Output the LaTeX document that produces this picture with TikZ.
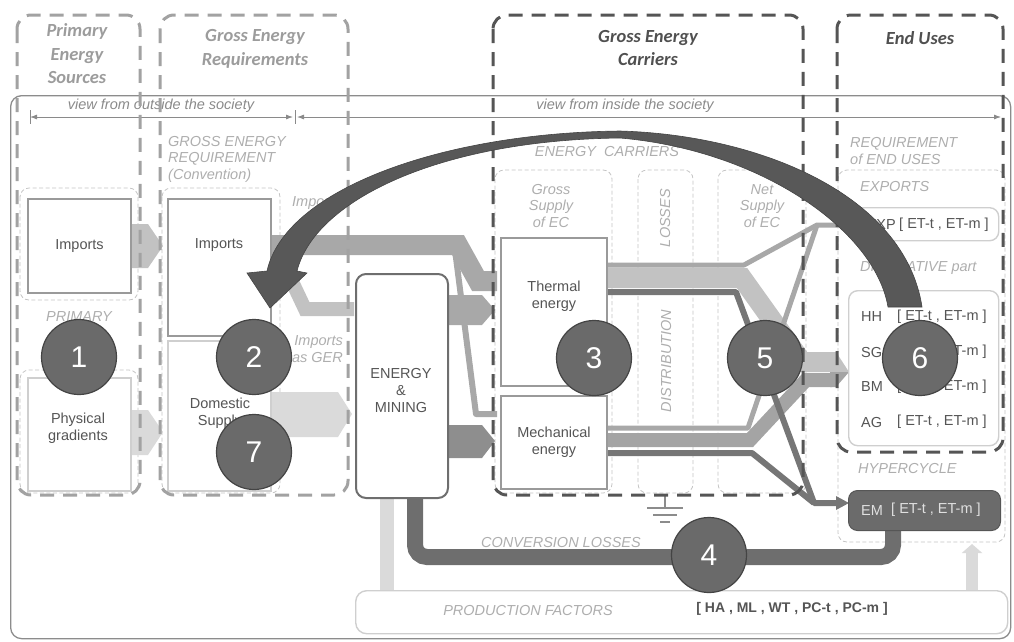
\documentclass[tikz,border=0pt]{standalone}
\usepackage{fontspec}
\setmainfont{Liberation Sans}
\newfontfamily\headfamily{Carlito}
\usetikzlibrary{arrows.meta}

\definecolor{headlite}{HTML}{9C9C9C}
\definecolor{headdark}{HTML}{505050}
\definecolor{colgrey}{HTML}{A2A2A2}
\definecolor{coldark}{HTML}{555555}
\definecolor{zonegrey}{HTML}{C4C4C4}
\definecolor{framegrey}{HTML}{8C8C8C}
\definecolor{boxline}{HTML}{9A9A9A}
\definecolor{softline}{HTML}{CFCFCF}
\definecolor{minebox}{HTML}{6E6E6E}
\definecolor{txtgrey}{HTML}{555555}
\definecolor{labgrey}{HTML}{AEAEAE}
\definecolor{viewgrey}{HTML}{8A8A8A}
\definecolor{numfill}{HTML}{6A6A6A}
\definecolor{numline}{HTML}{444444}
\definecolor{arcfill}{HTML}{585858}
\definecolor{flowmid}{HTML}{A8A8A8}
\definecolor{flowlite}{HTML}{C2C2C2}
\definecolor{flowpale}{HTML}{DADADA}
\definecolor{flowdark}{HTML}{767676}
\definecolor{flowmech}{HTML}{8E8E8E}
\definecolor{lossband}{HTML}{6E6E6E}
\definecolor{emfill}{HTML}{6B6B6B}

\newcommand\bodysize{\fontsize{14.5}{17}\selectfont}
\newcommand\labsize{\itshape\fontsize{14.5}{16.5}\selectfont}
\newcommand\headstyle{\headfamily\bfseries\itshape\fontsize{18.5}{23.5}\selectfont}

\begin{document}
\begin{tikzpicture}[x=1pt,y=-1pt,
  column/.style={line width=3pt, dash pattern=on 14pt off 9pt, rounded corners=14pt},
  zone/.style={draw=zonegrey, line width=0.8pt, dash pattern=on 4pt off 2.5pt, rounded corners=9pt},
  pbox/.style={draw=boxline, line width=2pt, fill=white, inner sep=0pt, anchor=north west,
    font=\bodysize, text=txtgrey, align=center},
  sbox/.style={pbox, draw=softline},
  rbox/.style={sbox, line width=1.4pt, rounded corners=9pt},
  lab/.style={font=\labsize, text=labgrey, inner sep=0pt},
  txt/.style={font=\bodysize, text=txtgrey, inner sep=0pt},
  head/.style={font=\headstyle, align=center, inner sep=0pt},
  num/.style={circle, fill=numfill, draw=numline, line width=1.2pt, minimum size=75pt,
    inner sep=0pt, text=white, font=\fontsize{30}{30}\selectfont},
  scalearrow/.style={draw=viewgrey, line width=0.8pt,
    {Latex[length=7pt,width=5pt]}-{Latex[length=7pt,width=5pt]}},
  band/.style={line join=miter, line cap=butt},
  thin/.style={line join=round, line cap=butt},
]
\useasboundingbox (0,0) rectangle (1014,641);

% ---------- society frame and viewpoint scale ----------
\node[draw=framegrey, line width=1.3pt, rounded corners=11pt, minimum width=1000pt,
  minimum height=543pt, anchor=north west, inner sep=0pt] (society) at (10,95) {};
\coordinate (outL) at (30,117);
\coordinate (outR) at (293,117);
\coordinate (inL) at (297,117);
\coordinate (inR) at (1001,117);
\draw[scalearrow] (outL) -- (outR);
\draw[scalearrow] (inL) -- (inR);
\draw[viewgrey, line width=0.8pt] (30,110) -- (30,124) (295,110) -- (295,124);
\node[lab, text=viewgrey] (vout) at (161,106) {view from outside the society};
\node[lab, text=viewgrey] (vin) at (625,106) {view from inside the society};

% ---------- column titles ----------
\node[head, text=headlite] (hpes) at (77,54) {Primary\\Energy\\Sources};
\node[head, text=headlite] (hger) at (255,49) {Gross Energy\\Requirements};
\node[head, text=headdark] (hgec) at (648,48) {Gross Energy\\Carriers};
\node[head, text=headdark] (heu) at (920,38) {End Uses};

% ---------- light dashed zones ----------
\draw[zone] (20,188) rectangle (138,300);
\draw[zone] (20,370) rectangle (138,493);
\draw[zone] (162,188) rectangle (280,493);
\draw[zone] (495,170) rectangle (612,493);
\draw[zone] (638,170) rectangle (693,493);
\draw[zone] (718,170) rectangle (806,493);
\draw[zone] (838,170) rectangle (1005,542);

% ---------- italic captions ----------
\node[lab] (lprim) at (79,317) {PRIMARY};
\node[lab, align=left, anchor=west] (lger) at (168,159) {GROSS ENERGY\\REQUIREMENT\\(Convention)};
\node[lab, anchor=west] (limpec) at (292,203) {Imports};
\node[lab, align=right, anchor=east] (limpger) at (343,349) {Imports\\as GER};
\node[lab] (lec) at (607,152) {ENERGY\ \ CARRIERS};
\node[lab, align=center] (lgross) at (551,206) {Gross\\Supply\\of EC};
\node[lab, rotate=90] (lloss) at (665,218) {LOSSES};
\node[lab, rotate=90] (ldist) at (666,361) {DISTRIBUTION};
\node[lab, align=center] (lnet) at (762,206) {Net\\Supply\\of EC};
\node[lab, align=left, anchor=west] (lreq) at (850,151) {REQUIREMENT\\of END USES};
\node[lab, anchor=west] (lexp) at (860,187) {EXPORTS};
\node[lab, anchor=west] (ldiss) at (860,268) {DISSIPATIVE part};
\node[lab, anchor=west] (lhyp) at (858,468) {HYPERCYCLE};
\node[lab] (lconv) at (561,542) {CONVERSION LOSSES};

% ---------- block arrows on the left ----------
\fill[flowlite] (128,224) -- (148,224) -- (163,246) -- (148,268) -- (128,268) -- cycle;
\fill[flowpale] (128,410) -- (148,410) -- (163,432) -- (148,455) -- (128,455) -- cycle;
\fill[flowpale] (268,392) -- (338,392) -- (352,414) -- (338,437) -- (268,437) -- cycle;

% imports leaving the GER
\draw[band, flowmid, line width=20pt] (268,245) -- (458,245) -- (478,281) -- (497,281);
\draw[thin, flowmid, line width=6pt] (455,250) -- (476,414) -- (497,414);
\draw[band, flowlite, line width=14pt] (268,271) -- (287,271) -- (305,309) -- (354,309);

% energy & mining towards the carriers
\fill[flowmid] (445,295) -- (482,295) -- (495,310) -- (482,325) -- (445,325) -- cycle;
\fill[flowmech] (445,425) -- (482,425) -- (495,441) -- (482,458) -- (445,458) -- cycle;

% production factors feeding energy & mining and end uses
\draw[flowpale, line width=14pt] (387,592) -- (387,495);
\draw[flowpale, line width=12pt, -{Triangle[length=9pt,width=20pt]}] (972,592) -- (972,544);

% ---------- carriers to end uses ----------
\draw[band, flowlite, line width=20pt] (604,278) -- (742,278) -- (802,362) -- (832,362);
\fill[flowlite] (830,352) -- (836,352) -- (849,372) -- (830,372) -- cycle;
\draw[band, flowmech!80!white, line width=14pt] (604,440) -- (750,440) -- (806,380) -- (832,380);
\fill[flowmech!80!white] (830,372) -- (849,372) -- (836,387) -- (830,387) -- cycle;
\draw[thin, flowmid, line width=5pt] (604,265) -- (744,265) -- (817,225) -- (848,225);
\draw[thin, flowmid, line width=5pt] (604,428) -- (748,428) -- (817,225);
\draw[thin, flowdark, line width=6pt] (604,292) -- (736,292) -- (814,503) -- (838,503);
\draw[thin, flowdark, line width=6pt] (604,453) -- (752,453) -- (814,503);
\fill[flowdark] (836,496) -- (849,503) -- (836,510) -- cycle;

% dissipation to ground
\coordinate (gnd) at (665,495);
\draw[framegrey, line width=1.6pt] (gnd) -- (665,508) (647,508) -- (683,508)
  (653,515) -- (677,515) (660,522) -- (670,522);

% conversion losses back to energy & mining
\draw[lossband, line width=16pt, rounded corners=12pt, line cap=round]
  (893,525) -- (893,557) -- (415,557) -- (415,498);

% ---------- boxes ----------
\node[pbox, minimum width=103pt, minimum height=94pt] (pimp) at (27,198) {Imports};
\node[sbox, minimum width=103pt, minimum height=113pt] (pgrad) at (27,377) {};
\node[txt, align=center] (tgrad) at (78,428) {Physical\\gradients};
\node[pbox, minimum width=103pt, minimum height=137pt] (gimp) at (167,198) {};
\node[txt] (tgimp) at (219,245) {Imports};
\node[sbox, minimum width=103pt, minimum height=150pt] (gdom) at (167,340) {};
\node[txt, align=center] (tgdom) at (220,413) {Domestic\\Supply};
\node[pbox, draw=minebox, rounded corners=10pt, minimum width=92pt, minimum height=224pt] (mining) at (355,273) {};
\node[txt, align=center] (tmining) at (401,390) {ENERGY\\\&\\MINING};
\node[pbox, minimum width=106pt, minimum height=148pt] (thermal) at (500,237) {};
\node[txt, align=center] (tthermal) at (554,296) {Thermal\\energy};
\node[pbox, minimum width=106pt, minimum height=93pt] (mech) at (500,395) {Mechanical\\energy};

\node[rbox, minimum width=150pt, minimum height=33pt] (expbox) at (848,207) {};
\node[txt, anchor=east] (texp) at (896,225) {EXP};
\node[txt, anchor=west] (texpv) at (899,225) {[ ET-t , ET-m ]};
\node[rbox, minimum width=150pt, minimum height=155pt] (dissbox) at (848,290) {};
\foreach \nm/\yy in {HH/317, SG/352, BM/387, AG/422}{
  \node[txt, anchor=west] (t\nm) at (861,\yy) {\nm};
  \node[txt, anchor=west] (v\nm) at (897,\yy) {[ ET-t , ET-m ]};
}
\node[pbox, draw=emfill!80!black, line width=1pt, fill=emfill, rounded corners=9pt,
  minimum width=152pt, minimum height=40pt] (embox) at (848,490) {};
\node[txt, text=white!88!black, anchor=west] (tem) at (861,510) {EM};
\node[txt, text=white!88!black, anchor=west] (vem) at (891,510) {[ ET-t , ET-m ]};

\node[rbox, rounded corners=11pt, minimum width=652pt, minimum height=43pt] (pfbox) at (355,590) {};
\node[lab] (lpf) at (528,610) {PRODUCTION FACTORS};
\node[txt, font=\bfseries\fontsize{14}{17}\selectfont] (tpf) at (792,609) {[ HA , ML , WT , PC-t , PC-m ]};

% ---------- dashed columns ----------
\draw[column, colgrey] (17,15) rectangle (140,495);
\draw[column, colgrey] (160,15) rectangle (348,495);
\draw[column, coldark] (493,15) rectangle (803,495);
\draw[column, coldark] (837,15) rectangle (1003,452);

% ---------- feedback from end uses to gross energy requirement ----------
% tapered band: thick at both ends, thin over the top
\fill[arcfill, draw=numline, line width=0.6pt]
  (888,307) .. controls (875,230) and (760,150) .. (620,138)
  .. controls (440,140) and (315,200) .. (297,271)
  -- (307,273) -- (270,308) -- (247,273) -- (267,271)
  .. controls (285,190) and (440,133) .. (620,131)
  .. controls (760,135) and (905,195) .. (922,307) -- cycle;

% ---------- numbered markers ----------
\node[num] (n1) at (79,357) {1};
\node[num] (n2) at (254,357) {2};
\node[num] (n3) at (594,358) {3};
\node[num] (n4) at (709,555) {4};
\node[num] (n5) at (765,358) {5};
\node[num] (n6) at (920,358) {6};
\node[num] (n7) at (254,452) {7};
\end{tikzpicture}
\end{document}
